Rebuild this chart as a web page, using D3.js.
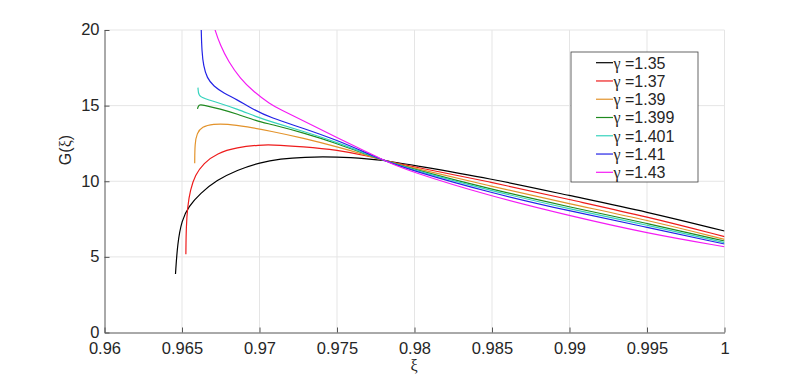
<!DOCTYPE html>
<html>
<head>
<meta charset="utf-8">
<script src="https://cdn.jsdelivr.net/npm/d3@7"></script>
<style>
  body { margin: 0; background: #fff; }
  text { font-family: "Liberation Sans", Arial, sans-serif; fill: #262626; }
  .grid line { stroke: #e5e5e5; stroke-width: 1; }
  .axis path, .axis line { stroke: #555; }
</style>
</head>
<body>
<div id="chart"></div>
<script>
// tick values
const xTicks = [0.96, 0.965, 0.97, 0.975, 0.98, 0.985, 0.99, 0.995, 1];
const yTicks = [0, 5, 10, 15, 20];

const gammas = ["1.35", "1.37", "1.39", "1.399", "1.401", "1.41", "1.43"];
const colors = ["#000000", "#ee1c1c", "#e3932b", "#1f8a1f", "#35d3bd", "#2323e6", "#f41cf4"];

// values (xi, G) for each gamma
const xi135 = [0.96458, 0.96471, 0.96499, 0.96542, 0.96617, 0.96725, 0.96854, 0.97005, 0.97134, 0.97284, 0.97499, 0.97714, 0.978, 0.97971, 0.98488, 0.99, 0.995, 1.0];
const g135  = [3.87, 5.90, 7.44, 8.32, 9.20, 10.08, 10.74, 11.25, 11.48, 11.60, 11.62, 11.47, 11.39, 11.09, 10.19, 9.05, 7.98, 6.71];

const xi137 = [0.96525, 0.96527, 0.96536, 0.96553, 0.96585, 0.96639, 0.96725, 0.96854, 0.97005, 0.97069, 0.97284, 0.97499, 0.97714, 0.978, 0.97971, 0.98488, 0.99, 0.995, 1.0];
const g137  = [5.17, 7.0, 8.32, 9.42, 10.41, 11.19, 11.85, 12.24, 12.40, 12.42, 12.29, 12.08, 11.64, 11.39, 11.0, 9.97, 8.78, 7.66, 6.34];

const xi139 = [0.96582, 0.96583, 0.96596, 0.96628, 0.96703, 0.96789, 0.96918, 0.97069, 0.97284, 0.97499, 0.97714, 0.978, 0.97971, 0.98488, 0.99, 0.995, 1.0];
const g139  = [11.19, 12.51, 13.17, 13.61, 13.79, 13.79, 13.61, 13.32, 12.85, 12.28, 11.64, 11.39, 10.93, 9.69, 8.50, 7.44, 6.16];

const xi1399 = [0.96600, 0.96607, 0.96639, 0.96747, 0.96854, 0.96983, 0.97069, 0.97284, 0.97499, 0.97714, 0.978, 0.97971, 0.98488, 0.99, 0.995, 1.0];
const g1399  = [14.78, 15.09, 15.04, 14.78, 14.45, 13.98, 13.78, 13.2, 12.5, 11.69, 11.39, 10.87, 9.47, 8.30, 7.22, 6.05];

const xi1401 = [0.96603, 0.96606, 0.96639, 0.96747, 0.96854, 0.96983, 0.97069, 0.97284, 0.97499, 0.97714, 0.978, 0.97971, 0.98488, 0.99, 0.995, 1.0];
const g1401  = [16.19, 15.66, 15.48, 15.15, 14.78, 14.25, 13.95, 13.3, 12.58, 11.71, 11.39, 10.81, 9.38, 8.17, 7.11, 5.94];

const xi141 = [0.96622, 0.96624, 0.96628, 0.96639, 0.96661, 0.96704, 0.96768, 0.96854, 0.96961, 0.97069, 0.97284, 0.97499, 0.97714, 0.978, 0.97971, 0.98488, 0.99, 0.995, 1.0];
const g141  = [21.0, 20.0, 18.6, 17.6, 16.83, 16.28, 15.84, 15.4, 14.74, 14.21, 13.5, 12.72, 11.76, 11.39, 10.75, 9.24, 8.03, 6.96, 5.85];

const xi143 = [0.96702, 0.96710, 0.96747, 0.96800, 0.96875, 0.96961, 0.97069, 0.97134, 0.97284, 0.97499, 0.97714, 0.978, 0.97971, 0.98488, 0.99, 0.995, 1.0];
const g143  = [20.5, 20.07, 19.0, 17.9, 16.8, 15.92, 15.1, 14.74, 14.0, 12.88, 11.84, 11.39, 10.64, 9.02, 7.72, 6.56, 5.67];

const series = [
  [xi135, g135], [xi137, g137], [xi139, g139], [xi1399, g1399],
  [xi1401, g1401], [xi141, g141], [xi143, g143]
];

const W = 801, H = 381;
const m = { left: 104.5, top: 30, right: 724.5, bottom: 332.5 };

const svg = d3.select("#chart").append("svg")
  .attr("width", W).attr("height", H);

const x = d3.scaleLinear().domain([0.96, 1]).range([m.left, m.right]);
const y = d3.scaleLinear().domain([0, 20]).range([m.bottom, m.top]);

// grid
const grid = svg.append("g").attr("class", "grid");
grid.selectAll("line.gx").data(xTicks.slice(1)).enter().append("line")
  .attr("x1", d => x(d)).attr("x2", d => x(d))
  .attr("y1", m.top).attr("y2", m.bottom);
grid.selectAll("line.gy").data(yTicks.slice(1)).enter().append("line")
  .attr("x1", m.left).attr("x2", m.right)
  .attr("y1", d => y(d)).attr("y2", d => y(d));

svg.append("clipPath").attr("id", "clip")
  .append("rect")
  .attr("x", m.left).attr("y", m.top)
  .attr("width", m.right - m.left).attr("height", m.bottom - m.top);

// axes, ticks point inwards
const xAxis = d3.axisBottom(x).tickValues(xTicks).tickSizeInner(-5).tickSizeOuter(0)
  .tickFormat(d => String(+d.toFixed(3)));
const yAxis = d3.axisLeft(y).tickValues(yTicks).tickSizeInner(-5).tickSizeOuter(0)
  .tickPadding(5);

svg.append("g").attr("class", "axis")
  .attr("transform", `translate(0,${m.bottom})`)
  .call(xAxis)
  .call(g => g.selectAll("text").style("font-size", "16.5px").attr("y", 21).attr("dy", null));

svg.append("g").attr("class", "axis")
  .attr("transform", `translate(${m.left},0)`)
  .call(yAxis)
  .call(g => g.selectAll("text").style("font-size", "16.5px").attr("dy", "0.3em"));

// curves
const line = d3.line()
  .x(d => x(d[0])).y(d => y(d[1]))
  .curve(d3.curveBasis);

const plot = svg.append("g").attr("clip-path", "url(#clip)");
series.forEach((s, i) => {
  const pts = s[0].map((v, j) => [v, s[1][j]]);
  plot.append("path")
    .datum(pts)
    .attr("fill", "none")
    .attr("stroke", colors[i])
    .attr("stroke-width", 1.2)
    .attr("d", line);
});

// axis labels
svg.append("text")
  .attr("x", (m.left + m.right) / 2 - 0.5).attr("y", 371)
  .attr("text-anchor", "middle")
  .style("font-family", "'Liberation Serif', serif")
  .style("font-size", "16px")
  .text("ξ");

svg.append("text")
  .attr("transform", "translate(71,150) rotate(-90)")
  .attr("text-anchor", "middle")
  .style("font-size", "16px")
  .html("G(<tspan style=\"font-family:'Liberation Serif',serif\">ξ</tspan>)");

// legend
const lg = svg.append("g");
lg.append("rect")
  .attr("x", 571).attr("y", 52).attr("width", 127).attr("height", 130)
  .attr("fill", "#fff").attr("stroke", "#404040").attr("stroke-width", 0.8);

const rowY = d3.scaleLinear().domain([0, gammas.length - 1]).range([62.7, 172.3]);
gammas.forEach((gm, i) => {
  lg.append("line")
    .attr("x1", 596).attr("x2", 613)
    .attr("y1", rowY(i)).attr("y2", rowY(i))
    .attr("stroke", colors[i]).attr("stroke-width", 1.2);
  const t = lg.append("text")
    .attr("x", 613.5).attr("y", rowY(i) + 5.8)
    .style("font-size", "16px");
  t.append("tspan").style("font-family", "'Liberation Serif', serif").text("γ");
  t.append("tspan").text(" =" + gm);
});
</script>
</body>
</html>
